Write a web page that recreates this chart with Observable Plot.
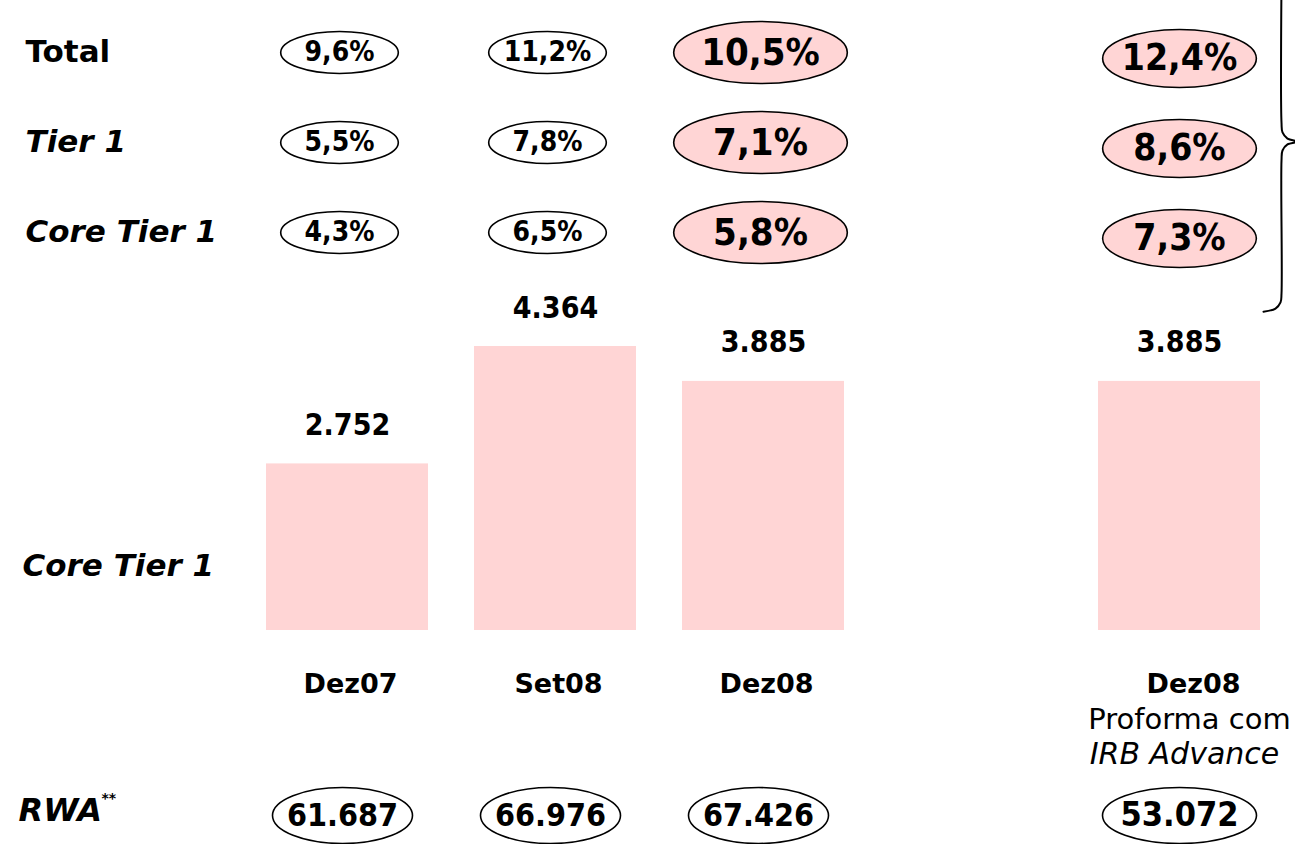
<!DOCTYPE html>
<html>
<head>
<meta charset="utf-8">
<script src="https://cdn.jsdelivr.net/npm/d3@7"></script>
<script src="https://cdn.jsdelivr.net/npm/@observablehq/plot@0.6"></script>
<style>
  html, body { margin: 0; padding: 0; background: #fff; }
  #chart { position: relative; width: 1295px; height: 844px; overflow: hidden; background: #fff; }
  #chart svg { position: absolute; left: 0; top: 0; }
</style>
</head>
<body>
<div id="chart"></div>
<script>
// ---------------- data ----------------
const columns = ["Dez07", "Set08", "Dez08", "Dez08 Proforma"];
const xSlots = ["Dez07", "Set08", "Dez08", "gap", "Dez08 Proforma"];
const highlighted = [false, false, true, true];

const ratioRows = ["Total", "Tier 1", "Core Tier 1"];
const totalRatio = [9.6, 11.2, 10.5, 12.4];
const tier1Ratio = [5.5, 7.8, 7.1, 8.6];
const coreTier1Ratio = [4.3, 6.5, 5.8, 7.3];

const coreTier1Capital = [2752, 4364, 3885, 3885];
const valueAxisMin = 465;

const rwa = [61687, 66976, 67426, 53072];

const periodLabels = ["Dez07", "Set08", "Dez08", "Dez08"];
const proformaLabels = ["", "", "", "Proforma com"];
const methodLabels = ["", "", "", "IRB Advance"];

// brace decoration, in unit coordinates of its own box
const braceX = [0.578, 0.578, 0.6, 0.711, 0.933, 0.711, 0.6, 0.578, 0.578, 0.556, 0.444, 0.178];
const braceY = [0, 0.418, 0.447, 0.465, 0.474, 0.482, 0.5, 0.529, 0.921, 0.947, 0.965, 0.974];

// ---------------- helpers ----------------
const W = 1295, H = 844;
const PINK = "#FFD5D5";
const TXT = "'DejaVu Sans', sans-serif";
const NUM = "'DejaVu Sans Condensed', 'DejaVu Sans', sans-serif";
const loc = d3.formatLocale({decimal: ",", thousands: ".", grouping: [3], currency: ["", ""]});
const pct = v => loc.format(".1f")(v) + "%";
const thou = loc.format(",d");

function ellipse(aspect) {
  return {
    draw(ctx, size) {
      const ry = Math.sqrt(size / Math.PI), rx = ry * aspect, k = 0.5523;
      ctx.moveTo(rx, 0);
      ctx.bezierCurveTo(rx, ry * k, rx * k, ry, 0, ry);
      ctx.bezierCurveTo(-rx * k, ry, -rx, ry * k, -rx, 0);
      ctx.bezierCurveTo(-rx, -ry * k, -rx * k, -ry, 0, -ry);
      ctx.bezierCurveTo(rx * k, -ry, rx, -ry * k, rx, 0);
      ctx.closePath();
    }
  };
}

const xScale = {type: "band", domain: xSlots, range: [263.5, 1262.5], paddingInner: 0.22, paddingOuter: 0, axis: null};
const base = {width: W, height: H, margin: 0, style: {background: "transparent"}};

const ratioSeries = [totalRatio, tier1Ratio, coreTier1Ratio];
const ratios = columns.flatMap((col, i) => ratioRows.map((row, j) => ({col, row, value: ratioSeries[j][i], idx: i})));
const smallR = ratios.filter(d => !highlighted[d.idx]);
const midR = ratios.filter(d => d.idx === 2);
const lastR = ratios.filter(d => d.idx === 3);

const bars = columns.map((col, i) => ({col, value: coreTier1Capital[i], label: thou(coreTier1Capital[i])}));
const cats = columns.map((col, i) => ({col, period: periodLabels[i], proforma: proformaLabels[i], method: methodLabels[i], idx: i}));
const rwaData = columns.map((col, i) => ({col, value: rwa[i], idx: i}));

const chart = document.getElementById("chart");

// ---------------- ratio table ----------------
chart.appendChild(Plot.plot({
  ...base,
  x: xScale,
  y: {type: "point", domain: ratioRows, range: [51, 232], padding: 0, axis: null},
  marks: [
    Plot.dot(smallR, {x: "col", y: "row", r: 21, symbol: ellipse(2.8), fill: "#fff", stroke: "#000", strokeWidth: 1.6, dx: -8}),
    Plot.text(smallR, {x: "col", y: "row", text: d => pct(d.value), dx: -8, fontSize: 28, fontWeight: "bold", fontFamily: NUM, fill: "#000"}),
    Plot.dot(midR, {x: "col", y: "row", r: 31, symbol: ellipse(2.8), fill: PINK, stroke: "#000", strokeWidth: 1.6, dx: -3}),
    Plot.text(midR, {x: "col", y: "row", text: d => pct(d.value), dx: -3, fontSize: 38, fontWeight: "bold", fontFamily: NUM, fill: "#000"}),
    Plot.dot(lastR, {x: "col", y: "row", r: 29, symbol: ellipse(2.65), fill: PINK, stroke: "#000", strokeWidth: 1.6, dy: 6}),
    Plot.text(lastR, {x: "col", y: "row", text: d => pct(d.value), dy: 6, fontSize: 37, fontWeight: "bold", fontFamily: NUM, fill: "#000"}),
    Plot.text(["Total"], {y: d => d, text: d => d, frameAnchor: "left", textAnchor: "start", dx: 25, fontSize: 31, fontWeight: "bold", fontFamily: TXT, fill: "#000"}),
    Plot.text(["Tier 1", "Core Tier 1"], {y: d => d, text: d => d, frameAnchor: "left", textAnchor: "start", dx: 25, fontSize: 31, fontWeight: "bold", fontStyle: "italic", fontFamily: TXT, fill: "#000"})
  ]
}));

// ---------------- brace ----------------
chart.appendChild(Plot.plot({
  ...base,
  x: {domain: [0, 1], range: [1255, 1300], axis: null},
  y: {domain: [0, 1], range: [-20, 320], axis: null},
  marks: [
    Plot.line(braceX.map((x, i) => ({x, y: braceY[i]})), {x: "x", y: "y", curve: "catmull-rom", stroke: "#000", strokeWidth: 2})
  ]
}));

// ---------------- bars ----------------
chart.appendChild(Plot.plot({
  ...base,
  x: xScale,
  y: {domain: [valueAxisMin, d3.max(coreTier1Capital)], range: [630, 346], axis: null},
  marks: [
    Plot.barY(bars, {x: "col", y1: valueAxisMin, y2: "value", fill: PINK}),
    Plot.text(bars, {x: "col", y: "value", text: "label", lineAnchor: "bottom", dy: -29, fontSize: 30, fontWeight: "bold", fontFamily: NUM, fill: "#000"}),
    Plot.text(["Core Tier 1"], {text: d => d, frameAnchor: "left", textAnchor: "start", dx: 22, dy: 144, fontSize: 31, fontWeight: "bold", fontStyle: "italic", fontFamily: TXT, fill: "#000"})
  ]
}));

// ---------------- category labels ----------------
const labelRows = ["period", "proforma", "method"];
chart.appendChild(Plot.plot({
  ...base,
  x: xScale,
  y: {type: "point", domain: labelRows, range: [683, 754], padding: 0, axis: null},
  marks: [
    Plot.text(cats.filter(d => d.idx < 3), {x: "col", y: () => "period", text: "period", dx: 3, fontSize: 27, fontWeight: "bold", fontFamily: TXT, fill: "#000"}),
    Plot.text(cats.filter(d => d.idx === 3), {x: "col", y: () => "period", text: "period", dx: 14, fontSize: 27, fontWeight: "bold", fontFamily: TXT, fill: "#000"}),
    Plot.text(cats.filter(d => d.proforma), {x: "col", y: () => "proforma", text: "proforma", dx: 10, fontSize: 29, fontFamily: TXT, fill: "#000"}),
    Plot.text(cats.filter(d => d.method), {x: "col", y: () => "method", text: "method", dx: 5, fontSize: 30, fontStyle: "italic", fontFamily: TXT, fill: "#000"})
  ]
}));

// ---------------- RWA row ----------------
chart.appendChild(Plot.plot({
  ...base,
  x: xScale,
  y: {type: "point", domain: ["RWA"], range: [815, 815], padding: 0, axis: null},
  marks: [
    Plot.dot(rwaData.filter(d => d.idx < 3), {x: "col", y: () => "RWA", r: 28, symbol: ellipse(2.5), fill: "#fff", stroke: "#000", strokeWidth: 1.6, dx: -5}),
    Plot.text(rwaData.filter(d => d.idx < 3), {x: "col", y: () => "RWA", text: d => thou(d.value), dx: -5, fontSize: 32, fontWeight: "bold", fontFamily: NUM, fill: "#000"}),
    Plot.dot(rwaData.filter(d => d.idx === 3), {x: "col", y: () => "RWA", r: 28, symbol: ellipse(2.75), fill: "#fff", stroke: "#000", strokeWidth: 1.6}),
    Plot.text(rwaData.filter(d => d.idx === 3), {x: "col", y: () => "RWA", text: d => thou(d.value), fontSize: 34, fontWeight: "bold", fontFamily: NUM, fill: "#000"}),
    Plot.text(["RWA"], {y: () => "RWA", text: d => d, frameAnchor: "left", textAnchor: "start", dx: 18, dy: -5, fontSize: 32, fontWeight: "bold", fontStyle: "italic", fontFamily: TXT, fill: "#000"}),
    Plot.text(["**"], {y: () => "RWA", text: d => d, frameAnchor: "left", textAnchor: "start", dx: 101, dy: -17, fontSize: 14, fontWeight: "bold", fontFamily: TXT, fill: "#000"})
  ]
}));
</script>
</body>
</html>
